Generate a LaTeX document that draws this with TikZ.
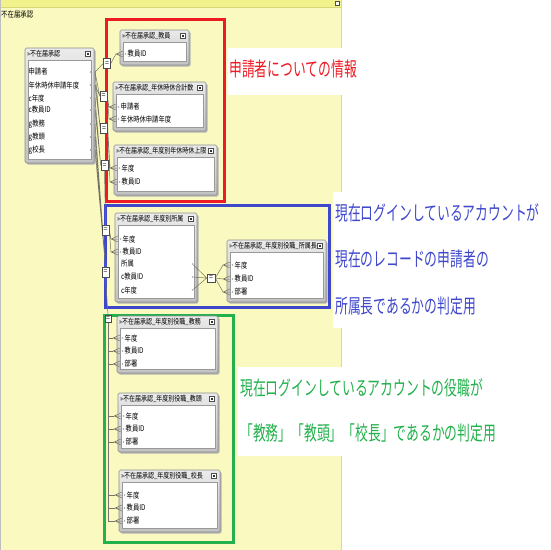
\documentclass[tikz,border=0pt]{standalone}
\usepackage{fontspec}
\usepackage{graphicx}
\setmainfont{Noto Sans CJK JP}
\usetikzlibrary{fit}
\pgfdeclarelayer{back}
\pgfdeclarelayer{front}
\pgfsetlayers{back,main,front}
\definecolor{panel}{RGB}{250,250,192}
\definecolor{strip}{RGB}{242,242,140}
\definecolor{stripline}{RGB}{215,215,120}
\definecolor{pred}{RGB}{237,28,36}
\definecolor{pblue}{RGB}{63,72,204}
\definecolor{pgreen}{RGB}{34,177,76}
\definecolor{lnk}{RGB}{115,115,105}
\tikzset{
 tabframe/.style={draw=black!45, rounded corners=1.5pt, top color=black!8, bottom color=black!24, inner sep=0pt, line width=0.6pt},
 tabshadow/.style={fill=black!30, rounded corners=1.5pt},
 tabbody/.style={draw=black!40, fill=white, inner sep=0pt, line width=0.5pt},
 ttl/.style={font=\fontsize{6}{7}\selectfont, inner sep=0pt, anchor=west},
 fld/.style={font=\fontsize{6.3}{7}\selectfont, inner sep=0pt, anchor=west},
 ico/.style={draw=black!70, fill=white, minimum size=5pt, inner sep=0pt, line width=0.4pt},
 mdot/.style={fill=black!35, minimum size=1.8pt, inner sep=0pt, circle},
 relbox/.style={draw=black!70, fill=white, minimum width=7pt, minimum height=10pt, inner sep=0pt, font=\fontsize{7}{7}\selectfont, line width=0.5pt},
 rel/.style={draw=lnk, line width=0.5pt},
 note/.style={font=\fontsize{12.8}{14}\selectfont, inner sep=0pt, anchor=west},
 annot/.style={line width=3pt},
}
\newcommand{\tall}[1]{\scalebox{1}[1.25]{#1}}
\newcommand{\fmtab}[6]{%
 \fill[tabshadow] (#2+1.5,#3+1.5) rectangle (#4+1.5,#5+1.5);
 \node[tabframe, fit={(#2,#3) (#4,#5)}] (#1) {};
 \node[ttl] (#1-t) at (#2+2,#3+6) {\tall{»#6}};
 \node[ico] (#1-i) at (#4-6,#3+6) {};
 \fill[black!80] (#4-7.2,#3+4.8) rectangle (#4-4.8,#3+7.2);
 \node[tabbody, fit={(#2+3,#3+12) (#4-3,#5-3.5)}] (#1-b) {};
}
\newcommand{\lfld}[4]{%
 \node[mdot] (#1-m) at (#2+5.5,#3) {};
 \node[fld] (#1) at (#2+7.5,#3) {\tall{#4}};
}
\newcommand{\crow}[3]{%
 \coordinate (#1) at (#2-7,#3);
 \draw[rel] (#1) -- (#2,#3-3) (#1) -- (#2,#3) (#1) -- (#2,#3+3);
}
\begin{document}
\begin{tikzpicture}[x=1pt,y=-1pt]
\useasboundingbox (0,0) rectangle (550,550);
\begin{pgfonlayer}{back}
\fill[white] (0,0) rectangle (550,550);
\fill[panel] (0,0) rectangle (341,550);
\fill[strip] (0,0) rectangle (341,7);
\draw[stripline] (0,7) -- (341,7);
\draw[black!25] (0.5,0) -- (0.5,550);
\draw[black!18] (341,0) -- (341,550);
\draw[annot, pred] (106,19.5) rectangle (224.5,201);
\draw[annot, pblue] (105,205.5) rectangle (329.5,307.7);
\draw[annot, pgreen] (104.5,315) rectangle (233.3,542);
\end{pgfonlayer}
\node[ico, minimum size=4pt] (topico) at (337,3) {};
\node[ttl, font=\fontsize{6.4}{7}\selectfont] (graphname) at (1,14) {\tall{不在届承認}};

% tables
\fmtab{main}{25}{48}{94}{163}{不在届承認}
\foreach \y/\t [count=\i] in {72/申請者,85/年休時休申請年度,98/c年度,110/c教員ID,124/g教務,137/g教頭,150/g校長}{
 \node[fld] (mf\i) at (28.5,\y) {\tall{\t}};
 \node[mdot] (md\i) at (90.5,\y) {};
 \coordinate (m\i) at (95,\y);
}
\fmtab{t1}{120}{30}{189}{65}{不在届承認\_教員}
\lfld{t1a}{120}{54}{教員ID}
\fmtab{t2}{113}{82}{206}{131}{不在届承認\_年休時休合計数}
\lfld{t2a}{113}{107}{申請者}
\lfld{t2b}{113}{119}{年休時休申請年度}
\fmtab{t3}{114}{145}{217}{195}{不在届承認\_年度別年休時休上限}
\lfld{t3a}{114}{168}{年度}
\lfld{t3b}{114}{182}{教員ID}
\fmtab{t4}{115}{213}{197}{302}{不在届承認\_年度別所属}
\lfld{t4a}{115}{239}{年度}
\lfld{t4b}{115}{252}{教員ID}
\node[fld] (t4c) at (121,264) {\tall{所属}};
\node[fld] (t4d) at (121,277) {\tall{c教員ID}};
\node[fld] (t4e) at (121,290) {\tall{c年度}};
\node[mdot] (t4cm) at (192.5,264) {};
\node[mdot] (t4dm) at (192.5,277) {};
\node[mdot] (t4em) at (192.5,290) {};
\fmtab{t5}{227}{240}{326}{302}{不在届承認\_年度別役職\_所属長}
\lfld{t5a}{227}{265}{年度}
\lfld{t5b}{227}{279}{教員ID}
\lfld{t5c}{227}{292}{部署}
\fmtab{t6}{117}{316}{218}{373}{不在届承認\_年度別役職\_教務}
\lfld{t6a}{117}{338}{年度}
\lfld{t6b}{117}{351}{教員ID}
\lfld{t6c}{117}{364}{部署}
\fmtab{t7}{118}{393}{218}{452}{不在届承認\_年度別役職\_教頭}
\lfld{t7a}{118}{416}{年度}
\lfld{t7b}{118}{429}{教員ID}
\lfld{t7c}{118}{442}{部署}
\fmtab{t8}{119}{470}{220}{532}{不在届承認\_年度別役職\_校長}
\lfld{t8a}{119}{495}{年度}
\lfld{t8b}{119}{508}{教員ID}
\lfld{t8c}{119}{521}{部署}

% relationship boxes
\begin{pgfonlayer}{front}
\node[relbox] (A) at (107,63.5) {=};
\node[relbox] (B) at (103.5,96) {=};
\node[relbox] (C) at (104,128.5) {=};
\node[relbox] (D) at (104.5,165.5) {=};
\node[relbox] (E) at (105.5,230) {=};
\node[relbox] (F) at (105.5,272) {=};
\node[relbox, minimum width=6pt, minimum height=7pt] (G) at (108,318.5) {=};
\node[relbox, minimum width=8pt, minimum height=8pt] (H) at (211,278) {=};
\end{pgfonlayer}

% crow's feet
\crow{a1}{123}{54}
\crow{b1}{116}{107}
\crow{b2}{116}{119}
\crow{c1}{117}{168}
\crow{c2}{117}{182}
\crow{e1}{118}{239}
\crow{e2}{118}{252}
\crow{h1}{230}{265}
\crow{h2}{230}{279}
\crow{h3}{230}{292}
\crow{g1}{120}{338}
\crow{g2}{120}{351}
\crow{g3}{120}{364}
\crow{g4}{121}{416}
\crow{g5}{121}{429}
\crow{g6}{121}{442}
\crow{g7}{122}{495}
\crow{g8}{122}{508}
\crow{g9}{122}{521}

% connectors
\draw[rel] (m1) -- (A.west) (A.east) -- (a1);
\draw[rel] (m1) -- (B.west) (m2) -- (B.west) (B.east) -- (b1) (B.east) -- (b2);
\draw[rel] (m1) -- (C.west) (m2) -- (C.west) (C.east) -- (c1) (C.east) -- (c2);
\draw[rel] (m3) -- (D.west) (m4) -- (D.west) (D.south) -- (E.north);
\draw[rel] (E.east) -- (e1) (E.east) -- (e2);
\draw[rel] (m5) -- (F.north) (m6) -- (F.north) (m7) -- (F.north) (F.south) -- (G.north);
\draw[rel] (t4cm) -- (H.west) (t4dm) -- (H.west) (t4em) -- (H.west);
\draw[rel] (H.east) -- (h1) (H.east) -- (h2) (H.east) -- (h3);
\foreach \g in {g1,g2,g3,g4,g5,g6,g7,g8,g9}{\draw[rel] (G.south) |- (\g);}

% notes
\fill[white] (228,48) rectangle (358,95);
\node[note, text=pred] (n1) at (229,69) {\scalebox{1}[1.55]{申請者についての情報}};
\fill[white] (333,192) rectangle (550,328);
\node[note, text=pblue] (n2) at (335,213) {\scalebox{1}[1.55]{現在ログインしているアカウントが}};
\node[note, text=pblue] (n3) at (335,259) {\scalebox{1}[1.55]{現在のレコードの申請者の}};
\node[note, text=pblue] (n4) at (335,306) {\scalebox{1}[1.55]{所属長であるかの判定用}};
\fill[white] (238,367) rectangle (550,456);
\node[note, text=pgreen] (n5) at (240,388) {\scalebox{1}[1.55]{現在ログインしているアカウントの役職が}};
\node[note, text=pgreen] (n6) at (240,433) {\scalebox{1}[1.55]{「教務」「教頭」「校長」であるかの判定用}};
\end{tikzpicture}
\end{document}
